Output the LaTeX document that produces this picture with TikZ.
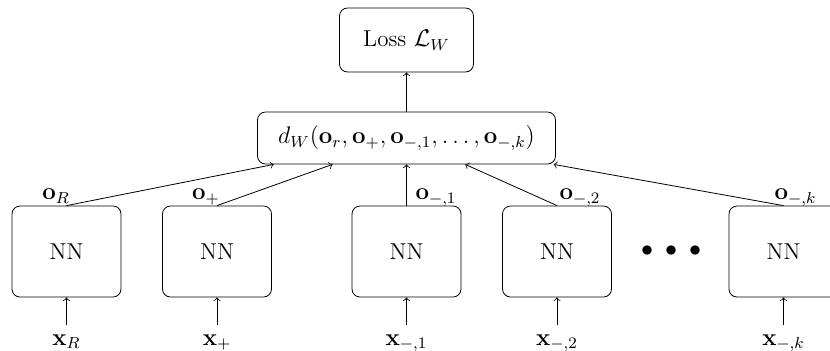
\documentclass[tikz,border=0pt]{standalone}
\usepackage{amsmath}
\begin{document}
\begin{tikzpicture}[x=0.5pt,y=-0.5pt,
  every node/.style={font=\fontsize{11.5}{13.5}\selectfont},
  nnbox/.style={draw, rounded corners=4pt, minimum width=54.5pt, minimum height=45.5pt, inner sep=0pt},
  lossbox/.style={draw, rounded corners=4pt, minimum width=67pt, minimum height=32pt, inner sep=0pt},
  dbox/.style={draw, rounded corners=4pt, minimum width=149pt, minimum height=26pt, inner sep=0pt, font=\fontsize{12}{14}\selectfont},
  lab/.style={anchor=base, inner sep=4.5pt},
  conn/.style={->, line width=0.4pt}]
\useasboundingbox (0,0) rectangle (830,350);
\node[lossbox] (loss) at (406.5,40) {Loss $\mathcal{L}_W$};
\node[dbox] (d) at (406.5,138) {$d_W(\mathbf{o}_r, \mathbf{o}_+, \mathbf{o}_{-,1}, \ldots, \mathbf{o}_{-,k})$};
\node[nnbox] (nn1) at (66.5,251.5) {NN};
\node[nnbox] (nn2) at (217,251.5) {NN};
\node[nnbox] (nn3) at (406.5,251.5) {NN};
\node[nnbox] (nn4) at (557,251.5) {NN};
\node[nnbox] (nn5) at (783.5,251.5) {NN};
\node (dots) at (671,251) {$\bullet$\hspace{6pt}$\bullet$\hspace{6pt}$\bullet$};
% inputs
\node[lab] (x1) at (66.5,345) {$\mathbf{x}_R$};
\node[lab] (x2) at (217,345) {$\mathbf{x}_+$};
\node[lab] (x3) at (406.5,345) {$\mathbf{x}_{-,1}$};
\node[lab] (x4) at (557,345) {$\mathbf{x}_{-,2}$};
\node[lab] (x5) at (783.5,345) {$\mathbf{x}_{-,k}$};
% outputs labels
\node[lab] (o1) at (56,199.5) {$\mathbf{o}_R$};
\node[lab] (o2) at (206,199.5) {$\mathbf{o}_+$};
\node[lab] (o3) at (436,199.5) {$\mathbf{o}_{-,1}$};
\node[lab] (o4) at (580,199.5) {$\mathbf{o}_{-,2}$};
\node[lab] (o5) at (795.5,199.5) {$\mathbf{o}_{-,k}$};
% connectors
\foreach \i in {1,...,5} {
  \draw[conn] (x\i.north) -- (nn\i.south);
  \draw[conn] (nn\i.north) -- (d);
}
\draw[conn] (d) -- (loss);
\end{tikzpicture}
\end{document}
